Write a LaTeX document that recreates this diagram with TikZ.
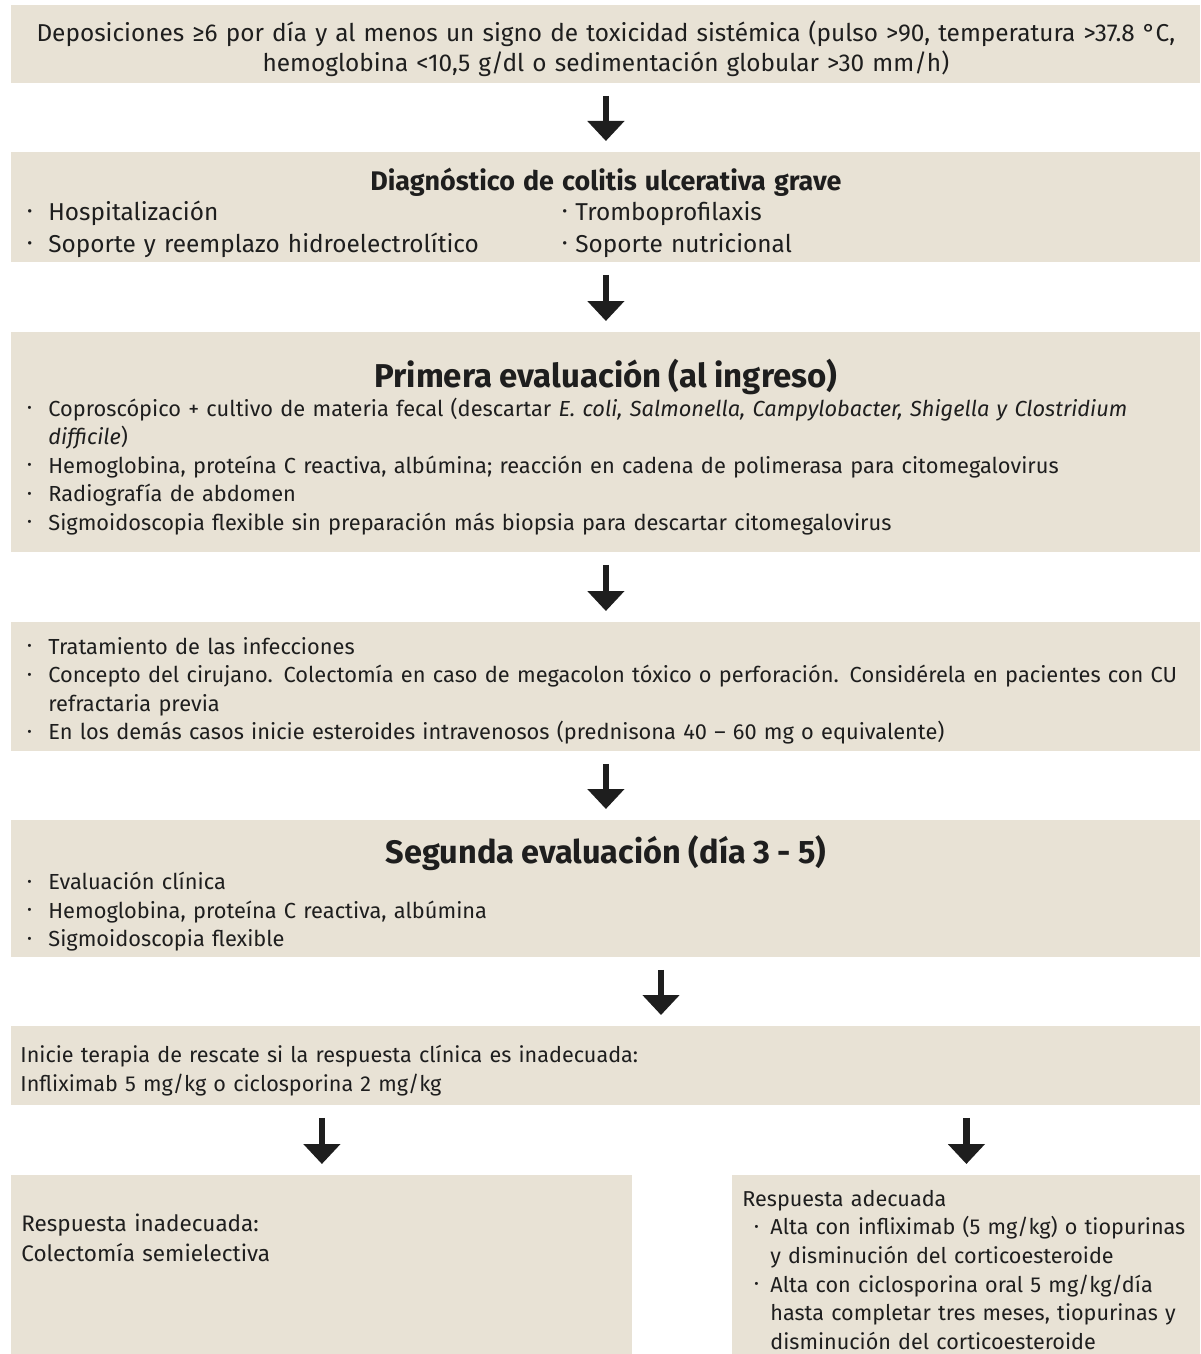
\documentclass[tikz,border=0pt]{standalone}
\usepackage{fontspec}
\setmainfont{Fira Sans}
\usetikzlibrary{arrows.meta}

\definecolor{boxfill}{HTML}{E8E2D5}
\definecolor{ink}{HTML}{1E1E1E}

% small round bullet and hanging bullet items
\newcommand{\dotb}{\raisebox{0.3ex}{\scalebox{0.62}{•}}}
\newcommand{\bul}[1]{\par\noindent\hangindent=10.5pt\hangafter=1\makebox[10.5pt][l]{\dotb}#1}
\newcommand{\subul}[1]{\par\noindent\hangindent=14pt\hangafter=1\makebox[14pt][l]{\hspace*{6pt}\dotb}#1}
% invisible struts fixing the first and last line of a box
\newcommand{\topstrut}[1]{\rule{0pt}{#1}}
\newcommand{\botstrut}[1]{\rule[-#1]{0pt}{#1}}

\begin{document}
\begin{tikzpicture}[x=0.5pt,y=-0.5pt,
    box/.style={fill=boxfill, text=ink, anchor=north west, inner xsep=8pt, inner ysep=0pt,
      minimum width=594.5pt, text width=578.5pt, align=left,
      font=\fontsize{10.9}{14.25}\selectfont,
      execute at begin node={\lineskiplimit=-20pt}},
    arr/.style={ink, line width=3.2pt, -{Triangle[width=18pt,length=10pt]},
      shorten <=6pt, shorten >=5.5pt}]
    \useasboundingbox (0,0) rectangle (1200,1354);

    \node[box, minimum height=39pt, align=center, font=\fontsize{12.2}{15}\selectfont] (b1) at (11,5)
        {\topstrut{17pt}Deposiciones ≥6 por día y al menos un signo de toxicidad sistémica (pulso >90, temperatura >37.8 °C,\par
         hemoglobina <10,5 g/dl o sedimentación globular >30 mm/h)\botstrut{5pt}};

    \node[box, minimum height=55pt, font=\fontsize{12.2}{16}\selectfont] (b2) at (11,152)
        {{\centering\fontsize{13.45}{16}\selectfont\bfseries\topstrut{18.2pt}Diagnóstico de colitis ulcerativa grave\par}
         \vspace{-0.8pt}
         \noindent\makebox[267.5pt][l]{\makebox[10.5pt][l]{\dotb}Hospitalización}\dotb\ Tromboprofilaxis\par
         \noindent\makebox[267.5pt][l]{\makebox[10.5pt][l]{\dotb}Soporte y reemplazo hidroelectrolítico}\dotb\ Soporte nutricional\botstrut{4pt}\par};

    \node[box, minimum height=110pt] (b3) at (11,332)
        {{\centering\fontsize{16.5}{18}\selectfont\bfseries\topstrut{21.45pt}Primera evaluación (al ingreso)\par}
         \bul{Coproscópico + cultivo de materia fecal (descartar \textit{E. coli, Salmonella, Campylobacter, Shigella y Clostridium}\newline \textit{difficile})}
         \bul{Hemoglobina, proteína C reactiva, albúmina; reacción en cadena de polimerasa para citomegalovirus}
         \bul{Radiografía de abdomen}
         \bul{Sigmoidoscopia flexible sin preparación más biopsia para descartar citomegalovirus\botstrut{5pt}}\par};

    \node[box, minimum height=64.5pt] (b4) at (11,622)
        {\bul{\topstrut{15.5pt}Tratamiento de las infecciones}
         \bul{Concepto del cirujano. Colectomía en caso de megacolon tóxico o perforación. Considérela en pacientes con CU\newline refractaria previa}
         \bul{En los demás casos inicie esteroides intravenosos (prednisona 40 – 60 mg o equivalente)\botstrut{4pt}}\par};

    \node[box, minimum height=68.5pt] (b5) at (11,820)
        {{\centering\fontsize{16.25}{18}\selectfont\bfseries\topstrut{20.35pt}Segunda evaluación (día 3 - 5)\par}
         \vspace{-1.1pt}
         \bul{Evaluación clínica}
         \bul{Hemoglobina, proteína C reactiva, albúmina}
         \bul{Sigmoidoscopia flexible\botstrut{4pt}}\par};

    \node[box, minimum height=39.5pt, inner xsep=4.5pt, text width=585.5pt,
        font=\fontsize{10.8}{14.5}\selectfont] (b6) at (11,1026)
        {\topstrut{15.5pt}Inicie terapia de rescate si la respuesta clínica es inadecuada:\par
         Infliximab 5 mg/kg o ciclosporina 2 mg/kg\botstrut{4pt}\par};

    \node[box, minimum height=89.5pt, minimum width=310.5pt, inner xsep=5pt, text width=300.5pt,
        font=\fontsize{11.25}{15}\selectfont] (b7) at (11,1175)
        {\topstrut{12pt}Respuesta inadecuada:\par
         Colectomía semielectiva\botstrut{30pt}\par};

    \node[box, minimum height=89.5pt, minimum width=234pt, inner xsep=5pt, text width=224pt,
        font=\fontsize{10.8}{14.3}\selectfont] (b8) at (732,1175)
        {\topstrut{13pt}Respuesta adecuada
         \subul{Alta con infliximab (5 mg/kg) o tiopurinas\newline y disminución del corticoesteroide}
         \subul{Alta con ciclosporina oral 5 mg/kg/día\newline hasta completar tres meses, tiopurinas y\newline disminución del corticoesteroide}\par};

    \coordinate (mid) at (661,0);

    \draw[arr] (b1.south) -- (b2.north);
    \draw[arr] (b2.south) -- (b3.north);
    \draw[arr] (b3.south) -- (b4.north);
    \draw[arr] (b4.south) -- (b5.north);
    \draw[arr] (b5.south -| mid) -- (b6.north -| mid);
    \draw[arr] (b6.south -| b7.north) -- (b7.north);
    \draw[arr] (b6.south -| b8.north) -- (b8.north);
\end{tikzpicture}
\end{document}
